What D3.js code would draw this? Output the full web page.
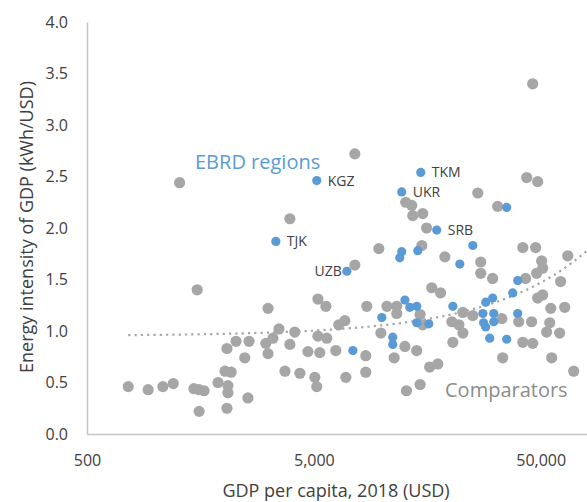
<!DOCTYPE html>
<html><head><meta charset="utf-8">
<script src="https://cdn.jsdelivr.net/npm/d3@7"></script>
<style>
html,body{margin:0;padding:0;background:#fff;}
svg{display:block;font-family:"Open Sans",sans-serif;}
</style></head>
<body>
<svg id="chart" width="587" height="502"></svg>
<script>
// ---- data ----
const xTicks = [500, 5000, 50000];
const xTickLabels = ["500", "5,000", "50,000"];
const yTicks = [0, 0.5, 1.0, 1.5, 2.0, 2.5, 3.0, 3.5, 4.0];

const comparatorGdp = [760,930,1080,1200,1480,1560,1640,1560,1890,2070,2270,2590,2480,2030,2160,2090,2090,2070,2560,1530,1280,3920,7580,
  3140,3510,4120,3070,3300,3140,3920,3730,4340,5050,5150,5210,5650,8560,6850,6440,5210,5700,4710,5310,6250,8470,6920,8470,9870,9670,7580,
  12700,13500,15100,13650,15700,26400,14960,18900,16550,18100,27200,27200,43400,48500,32300,41700,47500,65800,30700,50500,51000,48000,42900,61200,51000,48500,46100,
  10500,11600,11600,14700,15100,12600,14200,11300,20300,21800,22700,25100,22700,20500,16200,17600,12800,14700,
  33700,40000,45600,55400,63800,54800,53100,60600,41700,46100,34000,55900,69900];
const comparatorEi = [0.46,0.43,0.46,0.49,0.44,0.43,0.42,0.22,0.50,0.83,0.90,0.90,0.74,0.61,0.60,0.47,0.40,0.25,0.35,1.40,2.44,2.09,2.72,
  1.22,1.02,0.99,0.88,0.93,0.78,0.87,0.61,0.59,0.55,0.46,1.31,1.24,1.24,1.10,1.06,0.95,0.93,0.80,0.79,0.81,0.76,0.55,0.60,0.98,1.80,1.64,
  2.25,2.22,2.14,2.12,2.00,2.34,1.83,1.72,1.42,1.37,1.67,1.56,2.49,2.45,2.21,1.81,1.81,1.73,1.51,1.68,1.61,1.56,1.51,1.48,1.35,1.32,3.40,
  1.24,1.24,1.17,1.16,1.06,0.85,0.81,0.74,1.09,1.06,0.98,1.15,1.18,0.89,0.65,0.68,0.42,0.48,
  1.12,1.09,1.09,1.22,1.23,1.08,0.99,0.98,0.89,0.88,0.74,0.74,0.61];

const ebrdCodes = ["TKM","UKR","KGZ","TJK","UZB","SRB","","","","","","","","","","","","","","","","","","","","","","","","","","",""];
const ebrdGdp = [14800,12200,5150,3400,6990,17400,35400,25100,12200,11960,14360,22000,12600,13240,14210,9970,20500,14210,16060,11140,11140,7430,
  39600,37640,30700,28600,27800,31050,39600,28000,28600,31050,29800,35400];
const ebrdEi = [2.54,2.35,2.46,1.87,1.58,1.98,2.20,1.83,1.77,1.71,1.78,1.65,1.30,1.23,1.24,1.13,1.24,1.08,1.07,0.94,0.87,0.81,
  1.49,1.37,1.32,1.28,1.17,1.17,1.17,1.08,1.04,1.09,0.93,0.92];

// linear trendline (fitted on linear GDP scale)
const trendIntercept = 0.952;
const trendSlope = 1.034e-5;
const trendRange = [760, 80000];

const seriesNames = ["EBRD regions", "Comparators"];

// ---- drawing ----
const svg = d3.select("#chart");
const x = d3.scaleLog().domain([500, 80000]).range([87, 587]);
const y = d3.scaleLinear().domain([0, 4]).range([434, 22]);

const grey = "#a6a6a6", blue = "#5b9bd5", textCol = "#404040";

// axes
const yAxis = svg.append("g").attr("transform", "translate(87,0)")
  .call(d3.axisLeft(y).tickValues(yTicks).tickFormat(d3.format(".1f")).tickSize(0).tickPadding(19));
const xAxis = svg.append("g").attr("transform", "translate(0,434)")
  .call(d3.axisBottom(x).tickValues(xTicks).tickFormat((d,i)=>xTickLabels[i]).tickSize(0).tickPadding(20.5));
[yAxis, xAxis].forEach(g => {
  g.select(".domain").attr("stroke", "#c4c4c4").attr("stroke-width", 1.5);
  g.selectAll("text").attr("fill", textCol).attr("font-size", "16px").attr("font-family", "Open Sans");
});

// trendline
const tSamples = d3.range(0, 101).map(i => trendRange[0] * Math.pow(trendRange[1]/trendRange[0], i/100));
svg.append("path")
  .datum(tSamples)
  .attr("fill", "none").attr("stroke", grey).attr("stroke-width", 2.2)
  .attr("stroke-dasharray", "2.2,4.1")
  .attr("d", d3.line().x(d => x(d)).y(d => y(trendIntercept + trendSlope * d)));

// comparators
svg.append("g").selectAll("circle")
  .data(comparatorGdp.map((g,i) => [g, comparatorEi[i]]))
  .join("circle")
  .attr("cx", d => x(d[0])).attr("cy", d => y(d[1])).attr("r", 5.6)
  .attr("fill", grey);

// EBRD
const ebrd = ebrdGdp.map((g,i) => ({g, e: ebrdEi[i], code: ebrdCodes[i] || ""}));
svg.append("g").selectAll("circle")
  .data(ebrd).join("circle")
  .attr("cx", d => x(d.g)).attr("cy", d => y(d.e)).attr("r", 4.6)
  .attr("fill", blue);

// country labels
svg.append("g").selectAll("text")
  .data(ebrd.filter(d => d.code))
  .join("text")
  .attr("x", d => d.code === "UZB" ? x(d.g) - 5 : x(d.g) + 11)
  .attr("y", d => y(d.e) + 5)
  .attr("text-anchor", d => d.code === "UZB" ? "end" : "start")
  .attr("font-size", "14px").attr("fill", textCol)
  .text(d => d.code);

// series annotations
svg.append("text").attr("x", 195).attr("y", 169).attr("font-size", "20px")
  .attr("fill", blue).text(seriesNames[0]);
svg.append("text").attr("x", 445).attr("y", 397).attr("font-size", "20px")
  .attr("fill", "#8c8c8c").text(seriesNames[1]);

// axis titles
svg.append("text").attr("x", 336).attr("y", 497).attr("text-anchor", "middle")
  .attr("font-size", "18px").attr("fill", textCol).text("GDP per capita, 2018 (USD)");
svg.append("text").attr("transform", "translate(33,227) rotate(-90)").attr("text-anchor", "middle")
  .attr("font-size", "18px").attr("fill", textCol).text("Energy intensity of GDP (kWh/USD)");
</script>
</body></html>
